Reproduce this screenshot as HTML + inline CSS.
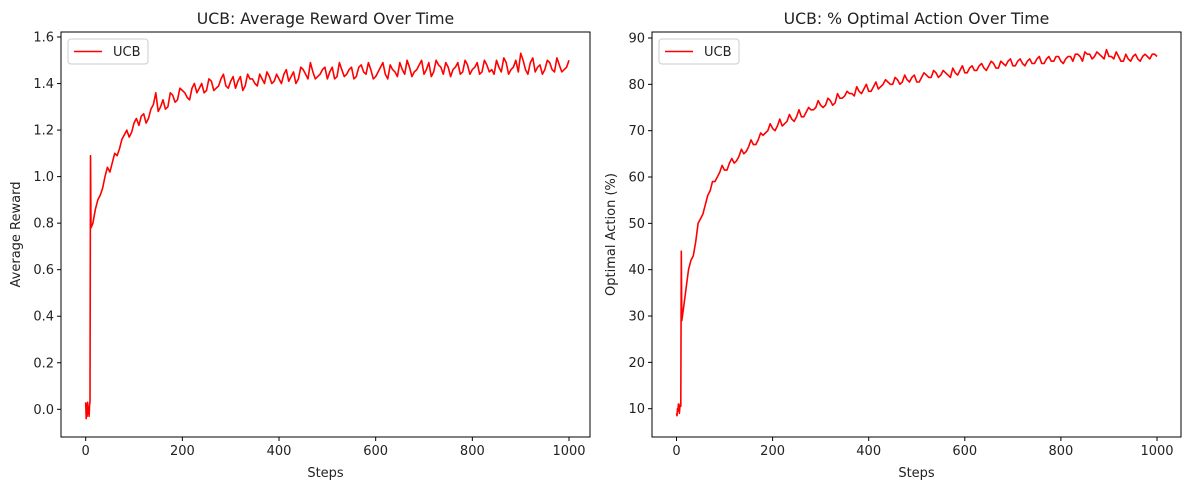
<!DOCTYPE html>
<html><head><meta charset="utf-8"><style>
body{margin:0;background:#fff;}
svg text{font-family:"DejaVu Sans","Liberation Sans",sans-serif;fill:#222;}
</style></head><body>
<svg id="fig" width="1189" height="490" xmlns="http://www.w3.org/2000/svg"></svg>
<script>
const earlySteps=[0,1,2,3,4,5,6,7,8,9,10,11];
const rewardEarly=[0.03,-0.04,0.02,-0.03,0.03,-0.02,0.01,-0.03,0.02,0.03,1.09,0.78];
const optimalEarly=[9,8.5,10,9.5,11,10,9,10.5,11,10.5,44,29];
// values at steps 20,30,...,1000
const rewardLate=[.86,.92,1.00,1.02,1.10,1.12,1.18,1.17,1.23,1.22,1.27,1.25,1.31,1.28,1.33,1.30,1.35,1.33,1.37,1.34,1.38,1.36,1.40,1.37,1.41,1.38,1.42,1.39,1.41,1.38,1.43,1.39,1.42,1.40,1.44,1.40,1.43,1.41,1.42,1.44,1.41,1.45,1.42,1.46,1.42,1.45,1.43,1.46,1.42,1.47,1.43,1.46,1.44,1.47,1.43,1.48,1.44,1.46,1.43,1.47,1.44,1.48,1.45,1.49,1.44,1.47,1.45,1.48,1.44,1.49,1.45,1.48,1.44,1.47,1.46,1.49,1.45,1.48,1.46,1.49,1.45,1.48,1.46,1.50,1.45,1.49,1.46,1.50,1.53,1.46,1.49,1.45,1.48,1.46,1.49,1.45,1.48,1.46,1.50];
// values at steps 15,25,...,995
const rewardMid=[.80,.90,.95,1.04,1.06,1.09,1.16,1.20,1.19,1.25,1.26,1.23,1.29,1.36,1.30,1.29,1.36,1.32,1.38,1.36,1.33,1.40,1.38,1.36,1.42,1.37,1.39,1.44,1.38,1.43,1.41,1.37,1.44,1.42,1.39,1.42,1.45,1.40,1.44,1.40,1.46,1.43,1.40,1.47,1.44,1.49,1.42,1.44,1.47,1.45,1.42,1.49,1.43,1.46,1.42,1.47,1.45,1.49,1.42,1.45,1.49,1.42,1.46,1.43,1.46,1.50,1.43,1.46,1.50,1.46,1.43,1.50,1.47,1.49,1.43,1.47,1.44,1.50,1.44,1.47,1.44,1.50,1.45,1.44,1.47,1.51,1.44,1.47,1.45,1.50,1.44,1.51,1.47,1.44,1.50,1.46,1.51,1.45,1.47];
const optimalLate=[36,42,46,51,54,57,59,61,61.5,63,63,64.5,65,66.5,67,68,69,70,70.5,71,71,72,72.5,73,73,74,74.5,75,75.5,75.5,76.5,76,77,77.5,78,77.5,78.5,79,78.5,79.5,79,80,80.5,80,81,80.5,81,81.5,80.5,81.5,82,81.5,82.5,82,82.5,81.5,82.5,83,82.5,83.5,83,84,83.5,84,84.5,83.5,84.5,85,84,85,84.5,85,84.5,85.5,84.5,85.5,85,86,85,85.5,86,86.5,86,87,86.5,86,86.5,85.5,86,85.5,86,85,85.5,86,85.5,86,86,86.5,86];
const optimalMid=[32,40,43,50,52,56,59,60,62.5,61.5,64,63.5,66,65.5,68,67,69.5,69.5,71.5,70,72.5,71.5,73.5,72,74.5,73,75,74.5,76.5,75,77,75.5,78,77,78.5,78,79.5,78,80,78.5,80.5,79.5,81,80,81.5,80,82,80.5,82,80.5,82.5,81.5,83,81.5,83,82,83.5,82,84,82.5,84,83,84.5,83,85,83.5,85,84,85.5,84,85.5,84,85.5,84.5,86,84.5,86,85,86,84.5,86,85,86.5,85,86.5,85.5,87,86,87.5,86,87,85,86.5,85,86.5,85,86.5,85.5,86.5];
const xTicks=[0,200,400,600,800,1000];
const rewardTicks=[0,0.2,0.4,0.6,0.8,1.0,1.2,1.4,1.6];
const optimalTicks=[10,20,30,40,50,60,70,80,90];

function buildSeries(early,mid,late){
  const pts=earlySteps.map((s,i)=>[s,early[i]]);
  const n=Math.max(mid.length,late.length);
  for(let i=0;i<n;i++){
    if(i<mid.length)pts.push([15+10*i,mid[i]]);
    if(i<late.length)pts.push([20+10*i,late[i]]);
  }
  return pts;
}
const rewardPts=buildSeries(rewardEarly,rewardMid,rewardLate);
const optimalPts=buildSeries(optimalEarly,optimalMid,optimalLate);

const NS="http://www.w3.org/2000/svg";
const svg=document.getElementById('fig');
function mk(tag,attrs,parent,text){const e=document.createElementNS(NS,tag);for(const k in attrs)e.setAttribute(k,attrs[k]);if(text!==undefined)e.textContent=text;(parent||svg).appendChild(e);return e;}

function panel(cfg){
  const g=mk('g',{});
  
  
  const X=v=>cfg.x0+v*(cfg.x1000-cfg.x0)/1000;
  const Y=v=>cfg.yA+(v-cfg.vA)*(cfg.yB-cfg.yA)/(cfg.vB-cfg.vA);
  let d='';
  cfg.data.forEach((p,i)=>{d+=(i?'L':'M')+X(p[0]).toFixed(1)+','+Y(p[1]).toFixed(1);});
  const p=mk('path',{d:d,fill:'none',stroke:'#ff0000','stroke-width':1.6,'stroke-linejoin':'round'},g);
  
  
  const fr=mk('rect',{x:cfg.L,y:cfg.T,width:cfg.R-cfg.L,height:cfg.B-cfg.T,fill:'none',stroke:'#000','stroke-width':1},g);
  
  
  xTicks.forEach(t=>{const x=X(t);mk('line',{x1:x,x2:x,y1:cfg.B,y2:cfg.B+4,stroke:'#000'},g);
    const tx=mk('text',{x:x,y:cfg.B+18,'text-anchor':'middle','font-size':13},g,String(t));
    
    });
  cfg.ticks.forEach(t=>{const y=Y(t);mk('line',{x1:cfg.L-4,x2:cfg.L,y1:y,y2:y,stroke:'#000'},g);
    const tx=mk('text',{x:cfg.L-7,y:y+4.5,'text-anchor':'end','font-size':13},g,cfg.fmt(t));
    
    });
  const ti=mk('text',{x:(cfg.L+cfg.R)/2,y:24,'text-anchor':'middle','font-size':15.7},g,cfg.title);
  
  
  const xl=mk('text',{x:(cfg.L+cfg.R)/2,y:477,'text-anchor':'middle','font-size':13},g,'Steps');
  
  
  const yl=mk('text',{x:0,y:0,'text-anchor':'middle','font-size':13,transform:`translate(${cfg.ylx},${(cfg.T+cfg.B)/2}) rotate(-90)`},g,cfg.ylabel);
  
  
  const lg=mk('g',{},g);
  
  
  mk('rect',{x:cfg.L+7,y:cfg.T+7,width:80,height:25,rx:3,fill:'#fff',stroke:'#ccc'},lg);
  mk('line',{x1:cfg.L+13,x2:cfg.L+41,y1:cfg.T+19.5,y2:cfg.T+19.5,stroke:'#ff0000','stroke-width':1.6},lg);
  mk('text',{x:cfg.L+52,y:cfg.T+24,'font-size':13},lg,'UCB');
}
panel({name:'reward-chart',L:61,R:590,T:32,B:437,x0:85.7,x1000:569,yA:409.3,vA:0,yB:37,vB:1.6,
  data:rewardPts,ticks:rewardTicks,fmt:t=>t.toFixed(1),title:'UCB: Average Reward Over Time',ylabel:'Average Reward',ylx:20});
panel({name:'optimal-action-chart',L:652,R:1181,T:32,B:437,x0:676.5,x1000:1157,yA:408.7,vA:10,yB:38,vB:90,
  data:optimalPts,ticks:optimalTicks,fmt:t=>String(t),title:'UCB: % Optimal Action Over Time',ylabel:'Optimal Action (%)',ylx:615});
</script>
</body></html>
